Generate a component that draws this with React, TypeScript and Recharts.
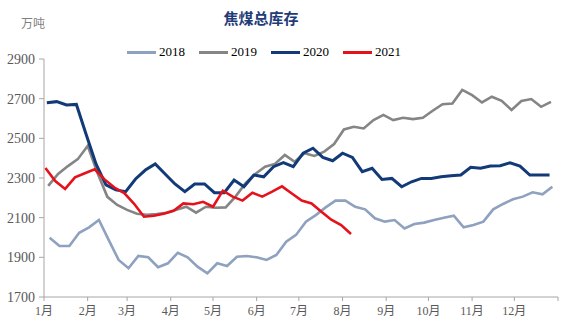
import React from 'react';
import { LineChart, Line, XAxis, YAxis } from 'recharts';

const monthLabels = ['1月', '2月', '3月', '4月', '5月', '6月', '7月', '8月', '9月', '10月', '11月', '12月', ''];
const monthStartDays = [0, 31, 59, 90, 120, 151, 181, 212, 243, 273, 304, 334, 365];
const yTicks = [1700, 1900, 2100, 2300, 2500, 2700, 2900];

const seriesNames = ['2018', '2019', '2020', '2021'];
const seriesColors = ['#8EA1BF', '#858585', '#123A78', '#E5121C'];
const firstDay = [4, 3, 2, 1];

const s2018 = [1999, 1957, 1957, 2024, 2051, 2088, 1987, 1887, 1845, 1907, 1900, 1850, 1870, 1923, 1900, 1853, 1819, 1870, 1856, 1903, 1907, 1900, 1887, 1912, 1979, 2013, 2080, 2113, 2152, 2186, 2186, 2155, 2142, 2097, 2080, 2088, 2046, 2068, 2075, 2088, 2100, 2110, 2051, 2063, 2080, 2142, 2169, 2193, 2206, 2228, 2218, 2256];
const s2019 = [2260, 2320, 2360, 2395, 2462, 2325, 2205, 2164, 2139, 2120, 2115, 2118, 2125, 2140, 2155, 2125, 2155, 2150, 2152, 2206, 2273, 2320, 2357, 2371, 2416, 2382, 2425, 2411, 2433, 2471, 2545, 2558, 2550, 2592, 2618, 2592, 2604, 2597, 2604, 2639, 2672, 2676, 2744, 2718, 2681, 2710, 2689, 2643, 2688, 2698, 2659, 2684];
const s2020 = [2680, 2685, 2668, 2671, 2518, 2370, 2265, 2240, 2231, 2295, 2340, 2371, 2320, 2270, 2231, 2270, 2270, 2226, 2226, 2290, 2256, 2315, 2306, 2357, 2377, 2357, 2425, 2450, 2404, 2387, 2425, 2404, 2332, 2349, 2293, 2298, 2256, 2281, 2298, 2298, 2306, 2311, 2315, 2354, 2349, 2360, 2362, 2377, 2360, 2315, 2315, 2315];
const s2021 = [2350, 2285, 2245, 2303, 2324, 2344, 2293, 2252, 2224, 2170, 2105, 2110, 2120, 2135, 2172, 2168, 2180, 2155, 2236, 2206, 2186, 2226, 2206, 2231, 2258, 2222, 2186, 2172, 2130, 2090, 2063, 2018];

const allSeries = [s2018, s2019, s2020, s2021];

const rows: Record<string, number>[] = [];
allSeries.forEach((vals, si) => {
  vals.forEach((v, i) => {
    rows.push({ day: firstDay[si] + 7 * i, ['y' + seriesNames[si]]: v });
  });
});
rows.sort((a, b) => a.day - b.day);

const serif = '"Liberation Serif", "Times New Roman", "Noto Sans CJK SC", serif';

export default function App() {
  return (
    <div style={{ position: 'absolute', left: 0, top: 0, width: 566, height: 333, background: '#fff' }}>
      <div style={{ position: 'absolute', left: 0, top: 8, width: 522, textAlign: 'center', fontFamily: '"Noto Sans CJK SC", sans-serif', fontWeight: 700, fontSize: 15, color: '#1F3C78', lineHeight: '20px' }}>
        焦煤总库存
      </div>
      <div style={{ position: 'absolute', left: 21, top: 15, fontFamily: '"Noto Sans CJK SC", sans-serif', fontSize: 12, color: '#7F7F7F', lineHeight: '16px' }}>
        万吨
      </div>
      <div style={{ position: 'absolute', left: 127, top: 43, display: 'flex', alignItems: 'center', fontFamily: serif, fontSize: 13, color: '#000', lineHeight: '18px' }}>
        {seriesNames.map((n, i) => (
          <div key={n} style={{ display: 'flex', alignItems: 'center', marginRight: 14 }}>
            <span style={{ display: 'inline-block', width: 29, height: 3, background: seriesColors[i], marginRight: 3 }} />
            <span>{n}</span>
          </div>
        ))}
      </div>
      <LineChart width={566} height={333} data={rows} margin={{ top: 59, right: 8, bottom: 6, left: 4 }}>
        <XAxis
          type="number"
          dataKey="day"
          domain={[0, 365]}
          ticks={monthStartDays}
          tickFormatter={(v: number) => monthLabels[monthStartDays.indexOf(v)] ?? ''}
          interval={0}
          height={30}
          stroke="#A6A6A6"
          tickSize={4}
          tickMargin={5}
          tick={{ fill: '#595959', fontSize: 12, fontFamily: serif }}
          allowDataOverflow
        />
        <YAxis
          type="number"
          domain={[1700, 2900]}
          ticks={yTicks}
          interval={0}
          width={40}
          stroke="#A6A6A6"
          tickSize={5}
          tickMargin={4}
          tick={{ fill: '#595959', fontSize: 14, fontFamily: serif }}
        />
        {seriesNames.map((n, i) => (
          <Line
            key={n}
            type="linear"
            dataKey={'y' + n}
            stroke={seriesColors[i]}
            strokeWidth={i === 2 ? 3 : 2.6}
            dot={false}
            activeDot={false}
            connectNulls
            isAnimationActive={false}
          />
        ))}
      </LineChart>
    </div>
  );
}
